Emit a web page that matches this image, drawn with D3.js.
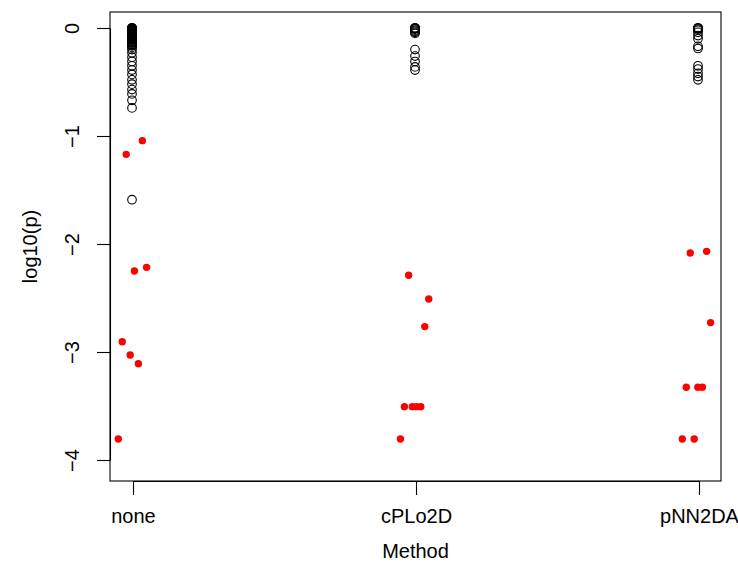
<!DOCTYPE html>
<html><head><meta charset="utf-8">
<script src="https://cdn.jsdelivr.net/npm/d3@7"></script>
<style>
html,body{margin:0;padding:0;background:#fff;}
svg{display:block;font-family:"Liberation Sans",Arial,Helvetica,sans-serif;}
</style></head>
<body><svg id="chart" width="738" height="563"></svg>
<script>
const categories = ["none", "cPLo2D", "pNN2DA"];
const yTicks = [0, -1, -2, -3, -4];
// non-significant tests (open circles), log10(p)
const nsNone = [0,0,0,0,-0.003,-0.006,-0.01,-0.013,-0.017,-0.02,-0.025,-0.03,-0.035,-0.04,-0.045,-0.05,-0.056,-0.062,-0.068,-0.075,-0.082,-0.09,-0.098,-0.105,-0.112,-0.12,-0.128,-0.135,-0.143,-0.15,-0.158,-0.165,-0.18,-0.2,-0.23,-0.27,-0.31,-0.35,-0.39,-0.43,-0.48,-0.52,-0.57,-0.61,-0.67,-0.74,-1.59];
const nsCPLo2D = [0,0,0,-0.005,-0.01,-0.02,-0.03,-0.04,-0.05,-0.2,-0.26,-0.31,-0.36,-0.39];
const nsPNN2DA = [0,0,0,-0.01,-0.02,-0.04,-0.07,-0.1,-0.17,-0.19,-0.35,-0.38,-0.42,-0.45,-0.48];
// significant tests (red), log10(p) and horizontal jitter
const sigNone = [-1.043,-1.17,-2.25,-2.216,-2.905,-3.028,-3.108,-3.806];
const jitNone = [0.033,-0.024,0.005,0.048,-0.038,-0.010,0.019,-0.052];
const sigCPLo2D = [-2.29,-2.509,-2.765,-3.506,-3.506,-3.506,-3.506,-3.806];
const jitCPLo2D = [-0.026,0.045,0.031,-0.041,-0.013,0.002,0.017,-0.055];
const sigPNN2DA = [-2.083,-2.068,-2.728,-3.327,-3.327,-3.327,-3.806,-3.806];
const jitPNN2DA = [-0.031,0.027,0.041,-0.045,-0.004,0.012,-0.059,-0.017];

const nsGroups = [nsNone, nsCPLo2D, nsPNN2DA];
const sigGroups = [sigNone, sigCPLo2D, sigPNN2DA];
const jitGroups = [jitNone, jitCPLo2D, jitPNN2DA];

const svg = d3.select("#chart");
const FS = 20;
const x = d3.scaleLinear().domain([1, 3]).range([133, 699]);
const y = d3.scaleLinear().domain([-4, 0]).range([460, 28]);
const box = {l: 110, r: 721, t: 12, b: 481};

// plot box
svg.append("rect").attr("x", box.l).attr("y", box.t)
  .attr("width", box.r - box.l).attr("height", box.b - box.t)
  .attr("fill", "none").attr("stroke", "#000").attr("stroke-width", 1.1);

// open circles
const nsData = nsGroups.flatMap((g, i) => g.map(v => ({x: i + 1, v})));
svg.append("g").selectAll("circle").data(nsData).join("circle")
  .attr("cx", d => x(d.x) - 1).attr("cy", d => y(d.v)).attr("r", 4.3)
  .attr("fill", "none").attr("stroke", "#000").attr("stroke-width", 1.1);

// red points
const sigData = sigGroups.flatMap((g, i) => g.map((v, j) => ({x: i + 1 + jitGroups[i][j], v})));
svg.append("g").selectAll("circle").data(sigData).join("circle")
  .attr("cx", d => x(d.x)).attr("cy", d => y(d.v)).attr("r", 3.7)
  .attr("fill", "#ff0000");

// y axis
const yAxis = svg.append("g").attr("transform", `translate(${box.l},0)`)
  .call(d3.axisLeft(y).tickValues(yTicks).tickSize(13).tickSizeOuter(0)
    .tickFormat(d => d === 0 ? "0" : "\u2212" + Math.abs(d)));
yAxis.select(".domain").attr("stroke-width", 1.1);
yAxis.selectAll(".tick line").attr("stroke-width", 1.1);
yAxis.selectAll(".tick text").attr("x", null).attr("dy", null)
  .attr("font-size", FS).attr("font-family", "Liberation Sans, Arial, sans-serif")
  .attr("text-anchor", "middle").attr("transform", "translate(-38,0) rotate(-90)")
  .attr("dy", "0.35em");

// x axis
const xAxis = svg.append("g").attr("transform", `translate(0,${box.b})`)
  .call(d3.axisBottom(x).tickValues([1, 2, 3]).tickSize(14).tickSizeOuter(0)
    .tickFormat(d => categories[d - 1]));
xAxis.select(".domain").attr("stroke-width", 1.1);
xAxis.selectAll(".tick line").attr("stroke-width", 1.1);
xAxis.selectAll(".tick text").attr("y", 28).attr("dy", "0.71em")
  .attr("font-size", FS).attr("font-family", "Liberation Sans, Arial, sans-serif");

// titles
svg.append("text").attr("x", (box.l + box.r) / 2).attr("y", 558)
  .attr("text-anchor", "middle").attr("font-size", FS).text("Method");
svg.append("text").attr("transform", `translate(30,${(box.t + box.b) / 2}) rotate(-90)`)
  .attr("text-anchor", "middle").attr("dy", "0.35em").attr("font-size", FS).text("log10(p)");
</script></body></html>
